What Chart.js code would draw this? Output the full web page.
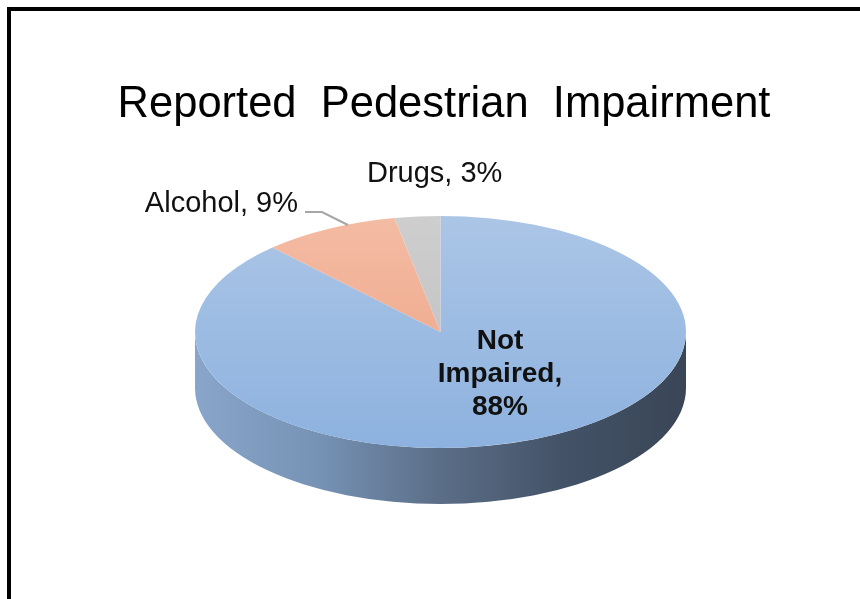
<!DOCTYPE html>
<html>
<head>
<meta charset="utf-8">
<title>Reported Pedestrian Impairment</title>
<script src="https://cdn.jsdelivr.net/npm/chart.js@4.4.1/dist/chart.umd.min.js"></script>
<style>
  html, body { margin: 0; padding: 0; background: #fff; overflow: hidden; }
  #frame { position: absolute; left: 7px; top: 7px; width: 900px; height: 700px; border: 4px solid #000; }
  #wrap { position: absolute; left: 0; top: 0; width: 860px; height: 599px; }
</style>
</head>
<body>
<div id="frame"></div>
<div id="wrap"><canvas id="pieChart"></canvas></div>
<script>
// chart data
const categories = ["Not Impaired", "Alcohol", "Drugs"];
const shares = [88, 9, 3];
const chartTitle = "Reported  Pedestrian  Impairment";

// the flat pie gets squashed into this ellipse, with a side wall of "depth" px
const disc = { cx: 440.5, cy: 332, rx: 245.5, ry: 116, depth: 56 };

// top face gradients (top -> bottom) and side wall gradients (left -> right)
const topColors = [
    ["#abc5e6", "#8db2df"],
    ["#f4bca4", "#eca083"],
    ["#cecece", "#bdbdbd"]
];
const sideColors = [
    ["#89a6ca", "#7692b5", "#5b6e87", "#435267", "#3a4657"],
    ["#c98f78", "#b07a64", "#8f6150", "#744e40", "#663f33"],
    ["#a8a8a8", "#949494", "#7c7c7c", "#666666", "#5a5a5a"]
];

// label layout (screen px)
const labelLayout = {
    inside: { x: 500, y: 349, lineGap: 33 },
    alcohol: { x: 298, y: 212, leader: [[305, 212], [322, 212], [348, 225]] },
    drugs: { x: 367, y: 182 }
};

function faceGradient(context) {
    const chart = context.chart;
    const area = chart.chartArea;
    const cols = topColors[context.dataIndex];
    if (!area) return cols[0];
    const cy = (area.top + area.bottom) / 2;
    const r = Math.min(area.right - area.left, area.bottom - area.top) / 2;
    const g = chart.ctx.createLinearGradient(0, cy - r, 0, cy + r);
    g.addColorStop(0, cols[0]);
    g.addColorStop(1, cols[1]);
    return g;
}

const pie3d = {
    id: "pie3d",
    beforeDatasetsDraw(chart) {
        const ctx = chart.ctx;
        const arcs = chart.getDatasetMeta(0).data;

        // side wall, only the front half (0..PI) can be seen
        arcs.forEach((arc, i) => {
            const p = arc.getProps(["startAngle", "endAngle"], true);
            [-2 * Math.PI, 0, 2 * Math.PI].forEach(shift => {
                const a0 = Math.max(p.startAngle, shift);
                const a1 = Math.min(p.endAngle, shift + Math.PI);
                if (a1 <= a0) return;
                ctx.beginPath();
                ctx.ellipse(disc.cx, disc.cy, disc.rx, disc.ry, 0, a0 - shift, a1 - shift);
                ctx.ellipse(disc.cx, disc.cy + disc.depth, disc.rx, disc.ry, 0, a1 - shift, a0 - shift, true);
                ctx.closePath();
                const g = ctx.createLinearGradient(disc.cx - disc.rx, 0, disc.cx + disc.rx, 0);
                sideColors[i].forEach((c, k, arr) => g.addColorStop(k / (arr.length - 1), c));
                ctx.fillStyle = g;
                ctx.fill();
            });
        });

        // squash the round pie into the ellipse
        const el = arcs[0];
        const r = el.outerRadius;
        ctx.save();
        ctx.translate(disc.cx, disc.cy);
        ctx.scale(disc.rx / r, disc.ry / r);
        ctx.translate(-el.x, -el.y);
    },
    afterDatasetsDraw(chart) {
        const ctx = chart.ctx;
        ctx.restore();

        ctx.save();
        ctx.fillStyle = "#111";
        ctx.textBaseline = "alphabetic";

        // inside label, bold, three lines
        const inside = [categories[0].split(" ")[0], categories[0].split(" ")[1] + ",", shares[0] + "%"];
        ctx.font = "bold 28px 'Liberation Sans', Arial, sans-serif";
        ctx.textAlign = "center";
        inside.forEach((t, k) => {
            ctx.fillText(t, labelLayout.inside.x, labelLayout.inside.y + k * labelLayout.inside.lineGap);
        });

        ctx.font = "29px 'Liberation Sans', Arial, sans-serif";
        ctx.textAlign = "right";
        ctx.fillText(categories[1] + ", " + shares[1] + "%", labelLayout.alcohol.x, labelLayout.alcohol.y);
        ctx.textAlign = "left";
        ctx.fillText(categories[2] + ", " + shares[2] + "%", labelLayout.drugs.x, labelLayout.drugs.y);

        // leader line for alcohol
        ctx.strokeStyle = "#a6a6a6";
        ctx.lineWidth = 2;
        ctx.beginPath();
        labelLayout.alcohol.leader.forEach((pt, k) => k ? ctx.lineTo(pt[0], pt[1]) : ctx.moveTo(pt[0], pt[1]));
        ctx.stroke();
        ctx.restore();
    }
};

new Chart(document.getElementById("pieChart"), {
    type: "pie",
    data: {
        labels: categories,
        datasets: [{
            data: shares,
            backgroundColor: faceGradient,
            borderWidth: 0
        }]
    },
    options: {
        responsive: true,
        maintainAspectRatio: false,
        animation: false,
        layout: { padding: { left: 28, top: 0, right: 0, bottom: 20 } },
        plugins: {
            legend: { display: false },
            tooltip: { enabled: false },
            title: {
                display: true,
                text: chartTitle,
                color: "#000",
                font: { family: "'Liberation Sans', Arial, sans-serif", size: 43.5, weight: "normal", lineHeight: 1.2 },
                padding: { top: 79, bottom: 10 }
            }
        }
    },
    plugins: [pie3d]
});
</script>
</body>
</html>
